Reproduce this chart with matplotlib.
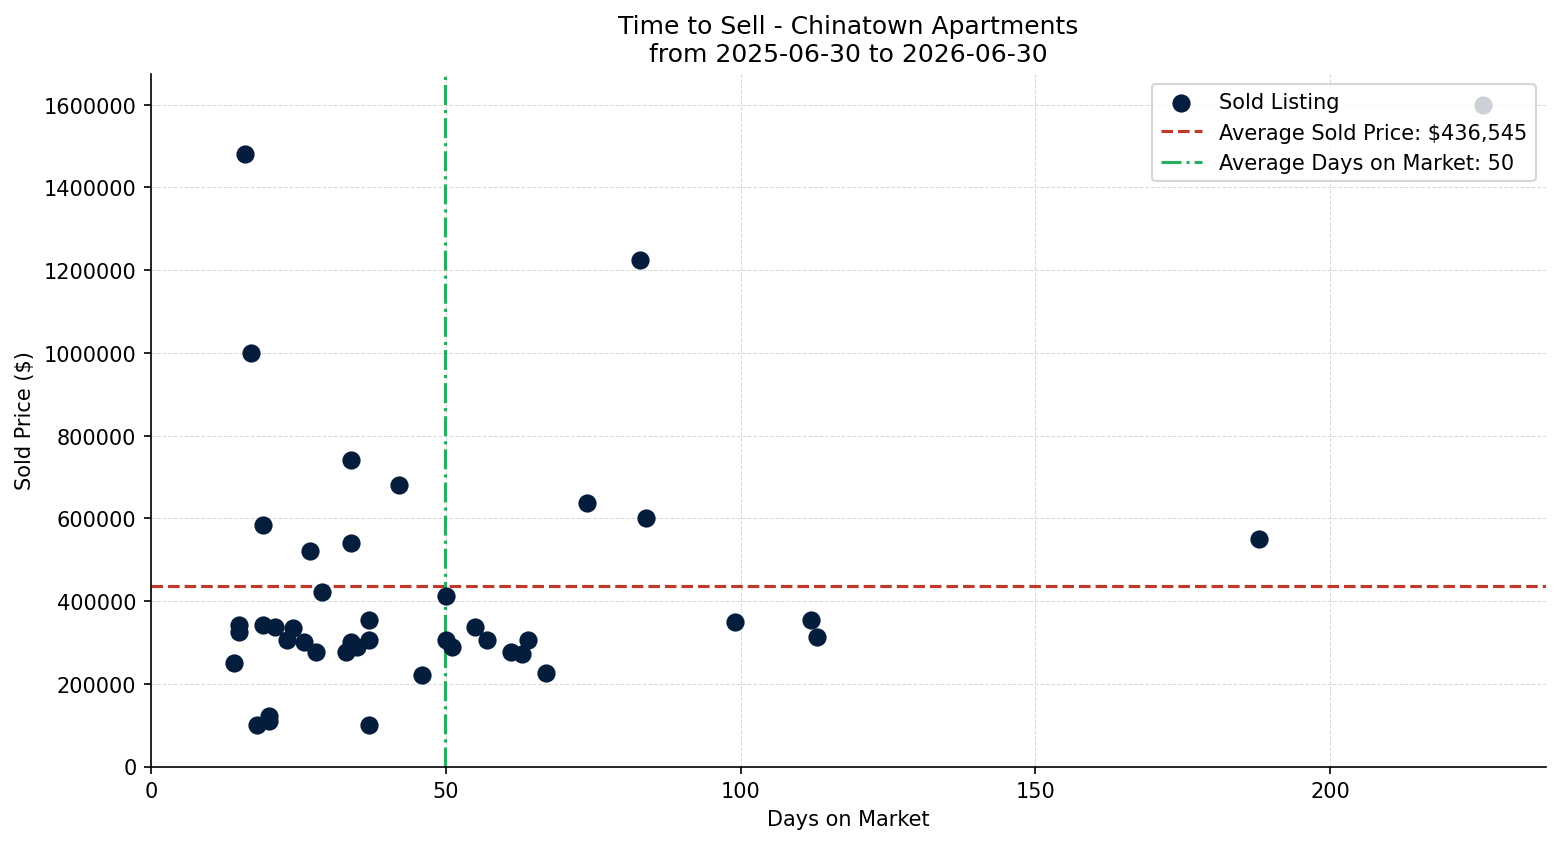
import matplotlib

matplotlib.use("Agg")
import matplotlib.pyplot as plt
from matplotlib.ticker import ScalarFormatter

# days on market / sold price for each sold listing
days = [16, 17, 83, 34, 42, 19, 74, 84, 27, 34, 188, 29, 50, 15, 15, 19, 21, 24, 23, 26,
        28, 14, 33, 34, 35, 37, 37, 46, 50, 51, 55, 57, 61, 63, 64, 67, 99, 112, 113, 18,
        20, 20, 37, 226]
prices = [1480000, 1000000, 1225000, 740000, 680000, 585000, 638000, 600000, 520000, 540000,
          550000, 423000, 411000, 341000, 324000, 343000, 338000, 334000, 307000, 300000,
          276000, 251000, 278000, 302000, 290000, 355000, 305000, 222000, 305000, 290000,
          338000, 305000, 278000, 271000, 305000, 227000, 350000, 355000, 314000, 100000,
          123000, 109000, 100000, 1600000]

avg_price = 436545
avg_days = 49.8
title = "Time to Sell - Chinatown Apartments\nfrom 2025-06-30 to 2026-06-30"

fig = plt.figure(figsize=(10.4, 5.633), dpi=150)
ax = fig.add_axes([0.0968, 0.0917, 0.8942, 0.8201])

ax.scatter(days, prices, s=60, color="#051d3d", zorder=3, label="Sold Listing")
ax.axhline(avg_price, color="#c0392b", linestyle="--", linewidth=1.5,
           label=f"Average Sold Price: ${avg_price:,}")
ax.axvline(avg_days, color="#27ae60", linestyle="-.", linewidth=1.5,
           label=f"Average Days on Market: {avg_days:.0f}")

ax.set_xlim(0, 236.6)
ax.set_ylim(0, 1675000)
fmt = ScalarFormatter(useOffset=False)
fmt.set_scientific(False)
ax.yaxis.set_major_formatter(fmt)

ax.grid(True, linestyle="--", linewidth=0.5, color="#d9d9d9", alpha=1)
ax.set_axisbelow(True)
ax.spines["top"].set_visible(False)
ax.spines["right"].set_visible(False)

ax.set_title(title, fontsize=12)
ax.set_xlabel("Days on Market")
ax.set_ylabel("Sold Price ($)")
ax.legend(loc="upper right")

fig.savefig("out.png", dpi=150)
plt.close(fig)
